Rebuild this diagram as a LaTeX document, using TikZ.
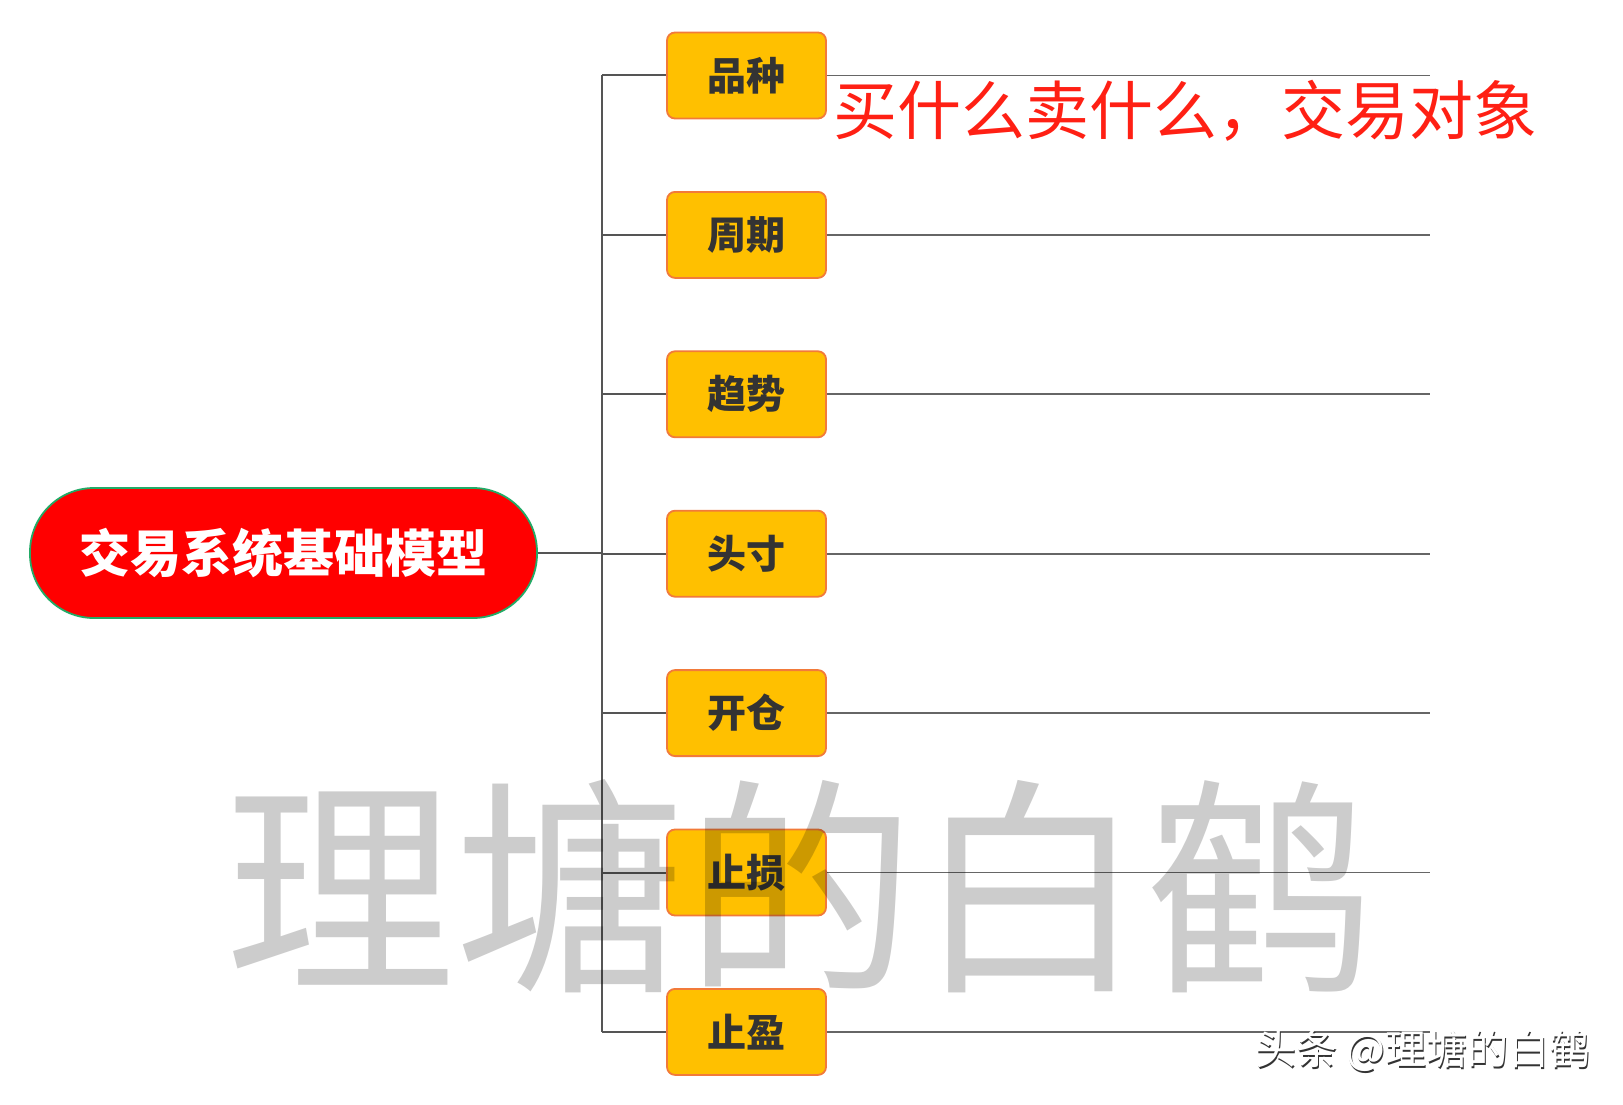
\documentclass[tikz,border=0pt]{standalone}
\usepackage{fontspec}
\usetikzlibrary{calc}
\newfontfamily\cjk{Noto Sans CJK SC}
\definecolor{boxfill}{HTML}{FFC000}
\definecolor{boxline}{HTML}{F27A3A}
\definecolor{rootline}{HTML}{22AA66}
\definecolor{linegrey}{HTML}{555555}
\definecolor{labelred}{HTML}{FF2014}
\definecolor{txt}{HTML}{333333}
\tikzset{
  leafbox/.style={draw=boxline, line width=1.8pt, fill=boxfill, rounded corners=8pt,
    minimum width=159pt, minimum height=86pt, inner sep=0pt,
    font=\cjk\bfseries\fontsize{39pt}{39pt}\selectfont, text=txt},
  rootbox/.style={draw=rootline, line width=1.8pt, fill=red, rounded corners=64pt,
    minimum width=507pt, minimum height=130pt, inner sep=0pt,
    font=\cjk\bfseries\fontsize{51pt}{51pt}\selectfont, text=white},
  conn/.style={draw=linegrey, line width=2pt},
  tail/.style={draw=linegrey!90, line width=1.8pt},
}
\begin{document}
\begin{tikzpicture}[x=1pt,y=-1pt]
\useasboundingbox (0,0) rectangle (1623,1105);
\fill[white] (0,0) rectangle (1623,1105);
% root
\node[rootbox] (root) at (283.5,553) {交易系统基础模型};
\coordinate (hub) at (602,553);
% leaves
\foreach \i/\t in {0/品种,1/周期,2/趋势,3/头寸,4/开仓,5/止损,6/止盈}{
  \pgfmathsetmacro{\yy}{75.5+159.4*\i}
  \coordinate (j\i) at (602,\yy);
  \coordinate (e\i) at (1430,\yy);
}
\draw[conn] (root.east) -- (hub);
\draw[conn] (j0) -- (j6);
\foreach \i/\t in {0/品种,1/周期,2/趋势,3/头寸,4/开仓,5/止损,6/止盈}{
  \node[leafbox] (n\i) at ($(j\i)+(144.5,0)$) {\t};
}
\foreach \i in {0,...,6}{
  \draw[conn] (j\i) -- (n\i.west);
  \draw[tail] (n\i.east) -- (e\i);
}
% annotation
\node[font=\cjk\fontsize{64pt}{64pt}\selectfont, text=labelred, anchor=west, inner sep=0pt] (note) at (833,111) {买什么卖什么，交易对象};
% watermark
\node[font=\cjk\fontsize{230pt}{230pt}\selectfont, text=black, text opacity=0.2, inner sep=0pt] (wm) at (800,886) {理塘的白鹤};
% footer
\node[font=\cjk\fontsize{41pt}{41pt}\selectfont, text=black!80, anchor=west, inner sep=0pt] (fshadow) at (1256.5,1052.5) {头条 @理塘的白鹤};
\node[font=\cjk\fontsize{41pt}{41pt}\selectfont, text=white, anchor=west, inner sep=0pt] (footer) at (1255,1051) {头条 @理塘的白鹤};
\end{tikzpicture}
\end{document}
